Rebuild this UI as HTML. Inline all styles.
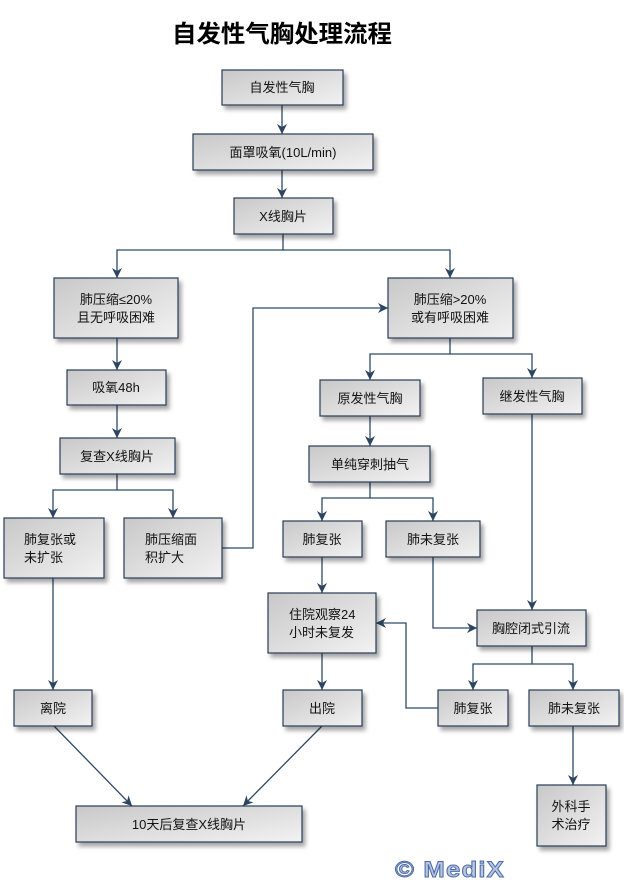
<!DOCTYPE html>
<html><head><meta charset="utf-8"><style>
html,body{margin:0;padding:0;background:#fff;}
svg text{font-family:"Liberation Sans","Noto Sans CJK SC","WenQuanYi Zen Hei",sans-serif;font-size:13px;fill:#111;}
</style></head><body>
<svg width="624" height="879" viewBox="0 0 624 879" xmlns="http://www.w3.org/2000/svg">
<defs>
<linearGradient id="g" x1="0" y1="0" x2="1" y2="1">
<stop offset="0" stop-color="#c8c8c8"/><stop offset="1" stop-color="#f2f2f2"/>
</linearGradient>
<filter id="s" x="-10%" y="-10%" width="130%" height="140%">
<feDropShadow dx="3" dy="4" stdDeviation="2" flood-color="#000" flood-opacity="0.35"/>
</filter>
<marker id="a" markerWidth="10" markerHeight="12" refX="10" refY="5" orient="auto" markerUnits="userSpaceOnUse">
<path d="M0,0 L10,5 L0,10 L3,5 z" fill="#2b4460"/>
</marker>
</defs>
<text x="172" y="42" textLength="220" lengthAdjust="spacingAndGlyphs" style="font-size:24px;font-weight:bold;fill:#000">自发性气胸处理流程</text>

<g stroke="#2e4a66" stroke-width="1.3" fill="none" marker-end="url(#a)">
<path d="M282 105 V134"/>
<path d="M282 170 V198"/>
<path d="M283 234 V250 H117 V278"/>
<path d="M283 250 H450 V278"/>
<path d="M117 338 V370"/>
<path d="M117 405 V438"/>
<path d="M117 474 V490 H53 V518"/>
<path d="M117 490 H173 V518"/>
<path d="M222 548 H253 V308 H388"/>
<path d="M450 338 V354 H370 V380"/>
<path d="M450 354 H532 V378"/>
<path d="M370 416 V446"/>
<path d="M370 482 V498 H322 V521"/>
<path d="M370 498 H433 V521"/>
<path d="M322 557 V593"/>
<path d="M433 557 V628 H477"/>
<path d="M532 414 V610"/>
<path d="M532 646 V664 H473 V690"/>
<path d="M532 664 H573 V690"/>
<path d="M438 708 H406 V623 H376"/>
<path d="M573 726 V785"/>
<path d="M53 578 V690"/>
<path d="M322 653 V690"/>
<path d="M54 726 L132 806"/>
<path d="M322 726 L243 806"/>
</g>

<g fill="url(#g)" stroke="#2b3e55" stroke-width="1.2" filter="url(#s)">
<rect x="222" y="70" width="121" height="35"/>
<rect x="193" y="134" width="180" height="36"/>
<rect x="234" y="198" width="99" height="36"/>
<rect x="54" y="278" width="124" height="60"/>
<rect x="388" y="278" width="125" height="60"/>
<rect x="67" y="370" width="99" height="35"/>
<rect x="60" y="438" width="115" height="36"/>
<rect x="320" y="380" width="100" height="36"/>
<rect x="483" y="378" width="99" height="36"/>
<rect x="309" y="446" width="121" height="36"/>
<rect x="4" y="518" width="100" height="60"/>
<rect x="124" y="518" width="98" height="60"/>
<rect x="283" y="521" width="79" height="36"/>
<rect x="386" y="521" width="94" height="36"/>
<rect x="268" y="593" width="108" height="60"/>
<rect x="477" y="610" width="109" height="36"/>
<rect x="14" y="690" width="78" height="36"/>
<rect x="283" y="690" width="79" height="36"/>
<rect x="438" y="690" width="70" height="36"/>
<rect x="529" y="690" width="90" height="36"/>
<rect x="537" y="785" width="69" height="61"/>
<rect x="76" y="806" width="226" height="36"/>
</g>

<g text-anchor="middle">
<text x="282" y="92">自发性气胸</text>
<text x="283" y="157">面罩吸氧(10L/min)</text>
<text x="283" y="221">X线胸片</text>
<text x="116" y="304">肺压缩≤20%</text>
<text x="116" y="322">且无呼吸困难</text>
<text x="450" y="304">肺压缩&gt;20%</text>
<text x="450" y="322">或有呼吸困难</text>
<text x="116" y="392">吸氧48h</text>
<text x="117" y="461">复查X线胸片</text>
<text x="370" y="403">原发性气胸</text>
<text x="532" y="401">继发性气胸</text>
<text x="370" y="469">单纯穿刺抽气</text>
<text x="322" y="544">肺复张</text>
<text x="433" y="544">肺未复张</text>
<text x="531" y="633">胸腔闭式引流</text>
<text x="53" y="713">离院</text>
<text x="322" y="713">出院</text>
<text x="473" y="713">肺复张</text>
<text x="574" y="713">肺未复张</text>
<text x="571" y="811">外科手</text>
<text x="571" y="829">术治疗</text>
<text x="189" y="829">10天后复查X线胸片</text>
</g>
<g>
<text x="24" y="544">肺复张或</text>
<text x="24" y="562">未扩张</text>
<text x="145" y="544">肺压缩面</text>
<text x="145" y="562">积扩大</text>
<text x="289" y="619">住院观察24</text>
<text x="289" y="637">小时未复发</text>
</g>
<text x="395" y="877" textLength="110" lengthAdjust="spacingAndGlyphs" style="font-size:22px;font-weight:bold;fill:#b8c6e0;stroke:#4a6aa8;stroke-width:0.9;letter-spacing:1px">© MediX</text>
</svg>
</body></html>
